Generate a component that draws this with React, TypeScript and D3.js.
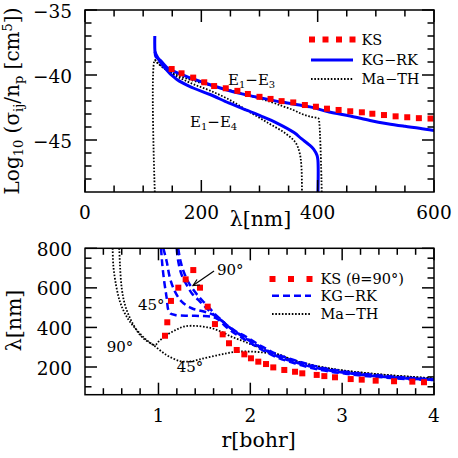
import * as d3 from 'd3';
import React from 'react';

// ---------- top panel : Log10(sigma_ij / n_p) against lambda ----------
const ksLambda = [149, 166, 186, 205, 222, 242, 262, 280, 300, 319, 338, 358, 378, 397, 416, 436, 456, 476, 494, 514, 534, 554, 574, 594];
const ksLog = [-39.54, -39.87, -40.2, -40.56, -40.85, -41.02, -41.22, -41.46, -41.68, -41.84, -42.01, -42.11, -42.31, -42.44, -42.59, -42.69, -42.79, -42.87, -42.98, -43.08, -43.18, -43.25, -43.32, -43.35];

const kgE13Lambda = [120, 120.3, 122, 130, 143, 160, 186, 215, 244, 270, 301, 340, 387, 420, 456, 490, 520, 550, 575, 600];
const kgE13Log = [-37.0, -38.2, -38.6, -38.9, -39.5, -39.85, -40.3, -40.75, -41.15, -41.45, -41.75, -42.1, -42.45, -42.85, -43.15, -43.5, -43.75, -43.95, -44.1, -44.28];

const kgE14Lambda = [120.3, 123, 135, 158, 186, 215, 247, 272, 301, 330, 360, 372, 385, 393, 399, 400.5, 400.5];
const kgE14Log = [-38.2, -38.5, -39.35, -40.35, -41.0, -41.5, -42.15, -42.6, -43.13, -43.7, -44.45, -44.9, -45.35, -45.7, -46.2, -46.6, -49.0];

const mtE13Lambda = [120, 120, 125, 146, 180, 215, 248, 284, 318, 340, 358, 373, 387, 401, 402, 407];
const mtE13Log = [-49.0, -38.85, -39.1, -39.75, -40.35, -40.8, -41.15, -41.6, -42.05, -42.4, -42.69, -43.0, -43.2, -43.33, -43.4, -49.0];

const mtE14Lambda = [120, 135, 160, 186, 215, 248, 282, 316, 345, 362, 369, 372, 373];
const mtE14Log = [-38.85, -39.45, -40.15, -40.7, -41.2, -41.9, -42.82, -43.72, -44.5, -45.2, -46.0, -47.0, -49.0];

const topXTicks = [0, 200, 400, 600];
const topYTicks = [-35, -40, -45];

// ---------- bottom panel : lambda against r ----------
const ksR = [1.071, 1.096, 1.136, 1.216, 1.296, 1.379, 1.452, 1.536, 1.615, 1.699, 1.768, 1.852, 1.935, 2.007, 2.087, 2.171, 2.25, 2.37, 2.487, 2.566, 2.723, 2.806, 2.922, 3.093, 3.213, 3.365, 3.565, 3.764, 3.891];
const ksLam = [358, 426, 534, 601, 643, 690, 601, 505, 417, 365, 320, 286, 264, 244, 227, 215, 198, 185, 176, 168, 160, 154, 148, 139, 136, 131, 128, 126, 123];

const kg1R = [1.028, 1.042, 1.063, 1.09, 1.107, 1.13, 1.18, 1.325, 1.471, 1.58, 1.65, 1.72, 1.8, 1.95, 2.13, 2.31, 2.49, 2.68, 2.86, 3.04, 3.22, 3.4, 3.6, 3.8, 4.0];
const kg1Lam = [800, 716, 631, 547, 488, 470, 463, 459, 458, 454, 440, 410, 380, 336, 286, 245, 218, 193, 177, 166, 156, 149, 142, 137, 134];
const kg2R = [1.053, 1.09, 1.126, 1.18, 1.253, 1.362, 1.471, 1.561, 1.63, 1.7, 1.78, 1.95, 2.13, 2.31, 2.49, 2.68, 2.86, 3.04, 3.22, 3.4, 3.6, 3.8, 4.0];
const kg2Lam = [800, 732, 648, 581, 530, 497, 483, 471, 455, 430, 398, 344, 293, 251, 224, 199, 182, 170, 160, 152, 145, 139, 136];
const kg3R = [1.198, 1.216, 1.253, 1.307, 1.362, 1.434, 1.507, 1.561, 1.62, 1.69, 1.77, 1.95, 2.13, 2.31, 2.49, 2.68, 2.86, 3.04, 3.22, 3.4, 3.6, 3.8, 4.0];
const kg3Lam = [800, 732, 665, 615, 573, 539, 505, 480, 458, 433, 400, 348, 297, 255, 228, 203, 185, 173, 163, 155, 147, 141, 137];
const kg4R = [1.215, 1.24, 1.28, 1.33, 1.38, 1.44, 1.5, 1.56, 1.62, 1.68, 1.75, 1.85, 1.95, 2.13, 2.31, 2.49, 2.68, 2.86, 3.04, 3.22, 3.4, 3.6, 3.8, 4.0];
const kg4Lam = [800, 735, 675, 625, 590, 555, 525, 495, 465, 440, 410, 378, 354, 303, 261, 233, 207, 189, 176, 166, 158, 150, 143, 138];

const mt90R = [0.501, 0.508, 0.538, 0.581, 0.654, 0.763, 0.872, 0.962, 1.0, 1.09, 1.2, 1.29, 1.43, 1.58, 1.69, 1.8, 1.9, 2.0, 2.1, 2.3, 2.5, 2.75, 3.0, 3.4, 3.76, 4.0];
const mt90Lam = [800, 715, 614, 530, 454, 387, 336, 311, 328, 362, 390, 406, 407, 396, 377, 352, 335, 316, 298, 264, 230, 202, 183, 163, 150, 142];
const mt45R = [0.573, 0.581, 0.6, 0.636, 0.709, 0.817, 0.944, 1.09, 1.234, 1.35, 1.45, 1.6, 1.74, 1.85, 2.0, 2.15, 2.3, 2.5, 2.75, 3.0, 3.4, 3.76, 4.0];
const mt45Lam = [800, 715, 598, 513, 429, 353, 311, 260, 230, 228, 239, 255, 269, 277, 278, 273, 264, 230, 202, 183, 163, 150, 142];

const botXTicks = [1, 2, 3, 4];
const botYTicks = [200, 400, 600, 800];

const FONT = '"DejaVu Serif", serif';
const BLUE = '#0000ff';
const RED = '#ff0000';

const xTop = d3.scaleLinear().domain([0, 600]).range([85, 434]);
const yTop = d3.scaleLinear().domain([-49, -35]).range([192, 10]);
const xBot = d3.scaleLinear().domain([0.2, 4]).range([85, 434]);
const yBot = d3.scaleLinear().domain([60, 800]).range([394.7, 248.3]);

const zip = (xs: number[], ys: number[]) => xs.map((x, i) => [x, ys[i]] as [number, number]);
const fmt = (v: number) => (v < 0 ? '\u2212' + Math.abs(v) : String(v));

function Frame({ x, y, xMajor, xMinor, yMajor, yMinor, xBase, ySide }: any) {
  const [x0, x1] = x.range();
  const [y1, y0] = y.range();
  const M = 12, m = 6.5;
  const t: any[] = [];
  xMajor.forEach((v: number, i: number) => {
    const X = x(v);
    t.push(<line key={'xa' + i} x1={X} x2={X} y1={y1} y2={y1 - M} />);
    t.push(<line key={'xb' + i} x1={X} x2={X} y1={y0} y2={y0 + M} />);
  });
  xMinor.forEach((v: number, i: number) => {
    const X = x(v);
    t.push(<line key={'xc' + i} x1={X} x2={X} y1={y1} y2={y1 - m} />);
    t.push(<line key={'xd' + i} x1={X} x2={X} y1={y0} y2={y0 + m} />);
  });
  yMajor.forEach((v: number, i: number) => {
    const Y = y(v);
    t.push(<line key={'ya' + i} x1={x0} x2={x0 + M} y1={Y} y2={Y} />);
    t.push(<line key={'yb' + i} x1={x1} x2={x1 - M} y1={Y} y2={Y} />);
  });
  yMinor.forEach((v: number, i: number) => {
    const Y = y(v);
    t.push(<line key={'yc' + i} x1={x0} x2={x0 + m} y1={Y} y2={Y} />);
    t.push(<line key={'yd' + i} x1={x1} x2={x1 - m} y1={Y} y2={Y} />);
  });
  return (
    <g>
      <g stroke="#000" strokeWidth={1.5}>
        {t}
        <rect x={x0} y={y0} width={x1 - x0} height={y1 - y0} fill="none" />
      </g>
      <g fontSize={18.5} fontFamily={FONT} fill="#000">
        {xMajor.map((v: number) => (
          <text key={'lx' + v} x={x(v)} y={xBase} textAnchor="middle">{fmt(v)}</text>
        ))}
        {yMajor.map((v: number) => (
          <text key={'ly' + v} x={ySide} y={y(v) + 7.5} textAnchor="end">{fmt(v)}</text>
        ))}
      </g>
    </g>
  );
}

export default function App() {
  const curve = d3.curveCatmullRom.alpha(0.5);
  const lt = d3.line<[number, number]>().x(d => xTop(d[0])).y(d => yTop(d[1])).curve(curve);
  const lb = d3.line<[number, number]>().x(d => xBot(d[0])).y(d => yBot(d[1])).curve(curve);
  const sq = 6;
  const dots = '1.6 1.7';

  return (
    <svg width={458} height={458} style={{ position: 'absolute', left: 0, top: 0, background: '#fff' }}>
      <defs>
        <clipPath id="clipTop"><rect x={85} y={10} width={349} height={182} /></clipPath>
        <clipPath id="clipBot"><rect x={85} y={248.3} width={349} height={146.4} /></clipPath>
      </defs>

      {/* top panel */}
      <g clipPath="url(#clipTop)" fill="none">
        <path d={lt(zip(mtE13Lambda, mtE13Log)) || ''} stroke="#000" strokeWidth={1.8} strokeDasharray={dots} />
        <path d={lt(zip(mtE14Lambda, mtE14Log)) || ''} stroke="#000" strokeWidth={1.8} strokeDasharray={dots} />
        <path d={lt(zip(kgE13Lambda, kgE13Log)) || ''} stroke={BLUE} strokeWidth={3} />
        <path d={lt(zip(kgE14Lambda, kgE14Log)) || ''} stroke={BLUE} strokeWidth={3} />
        {zip(ksLambda, ksLog).map((d, i) => (
          <rect key={i} x={xTop(d[0]) - sq / 2} y={yTop(d[1]) - sq / 2} width={sq} height={sq} fill={RED} />
        ))}
      </g>
      <Frame x={xTop} y={yTop} xMajor={topXTicks} xMinor={d3.range(50, 600, 50).filter(v => v % 200)}
        yMajor={topYTicks} yMinor={d3.range(-48, -35, 1).filter(v => v % 5)} xBase={218.5} ySide={72} />
      <g fontFamily={FONT} fontSize={15}>
        <text x={xTop(245.8)} y={yTop(-40.77)}>E<tspan dy={3} fontSize={10}>1</tspan><tspan dy={-3}>{'\u2212'}E</tspan><tspan dy={3} fontSize={10}>3</tspan></text>
        <text x={xTop(180.5)} y={yTop(-44.0)}>E<tspan dy={3} fontSize={10}>1</tspan><tspan dy={-3}>{'\u2212'}E</tspan><tspan dy={3} fontSize={10}>4</tspan></text>
      </g>
      {/* top legend */}
      <g fontFamily={FONT} fontSize={14.5}>
        {[312, 325.5, 339, 352.5].map(x => <rect key={x} x={x - sq / 2} y={39.5 - sq / 2} width={sq} height={sq} fill={RED} />)}
        <text x={361.5} y={44.5}>KS</text>
        <line x1={311} x2={353} y1={60} y2={60} stroke={BLUE} strokeWidth={3} />
        <text x={361.5} y={64.5}>KG{'\u2212'}RK</text>
        <line x1={311} x2={353} y1={79} y2={79} stroke="#000" strokeWidth={1.8} strokeDasharray={dots} />
        <text x={361.5} y={84}>Ma{'\u2212'}TH</text>
      </g>
      <text x={260.5} y={226} textAnchor="middle" fontFamily={FONT} fontSize={20.5}>{'\u03bb[nm]'}</text>
      <text transform="translate(18.5,101) rotate(-90)" textAnchor="middle" fontFamily={FONT} fontSize={20}>
        Log<tspan dy={4} fontSize={13}>10</tspan><tspan dy={-4}> ({'\u03c3'}</tspan><tspan dy={4} fontSize={13}>ij</tspan><tspan dy={-4}>/n</tspan><tspan dy={4} fontSize={13}>p</tspan><tspan dy={-4}> [cm</tspan><tspan dy={-7} fontSize={13}>5</tspan><tspan dy={7}>])</tspan>
      </text>

      {/* bottom panel */}
      <g clipPath="url(#clipBot)" fill="none">
        <path d={lb(zip(mt90R, mt90Lam)) || ''} stroke="#000" strokeWidth={1.8} strokeDasharray={dots} />
        <path d={lb(zip(mt45R, mt45Lam)) || ''} stroke="#000" strokeWidth={1.8} strokeDasharray={dots} />
        {[[kg1R, kg1Lam], [kg2R, kg2Lam], [kg3R, kg3Lam], [kg4R, kg4Lam]].map((s, i) => (
          <path key={i} d={lb(zip(s[0], s[1])) || ''} stroke={BLUE} strokeWidth={2.5} strokeDasharray="7 4" />
        ))}
        {zip(ksR, ksLam).map((d, i) => (
          <rect key={i} x={xBot(d[0]) - sq / 2} y={yBot(d[1]) - sq / 2} width={sq} height={sq} fill={RED} />
        ))}
      </g>
      <Frame x={xBot} y={yBot} xMajor={botXTicks} xMinor={d3.range(0.4, 4, 0.2).filter(v => Math.abs(v - Math.round(v)) > 0.01)}
        yMajor={botYTicks} yMinor={d3.range(100, 800, 50).filter(v => v % 200)} xBase={421.5} ySide={72} />
      <g fontFamily={FONT} fontSize={15}>
        <text x={xBot(0.777)} y={yBot(488)}>45°</text>
        <text x={xBot(0.436)} y={yBot(278)}>90°</text>
        <text x={xBot(1.198)} y={yBot(175)}>45°</text>
        <text x={xBot(1.637)} y={yBot(665)}>90°</text>
      </g>
      <g stroke="#000" strokeWidth={1.2} fill="none">
        <line x1={xBot(1.605)} y1={yBot(685)} x2={xBot(1.376)} y2={yBot(612)} />
        <path d={`M${xBot(1.376) + 7},${yBot(612) - 0.5} L${xBot(1.376)},${yBot(612)} L${xBot(1.376) + 4},${yBot(612) - 6}`} />
      </g>
      {/* bottom legend */}
      <g fontFamily={FONT} fontSize={14.5}>
        {[272.5, 291, 309.5].map(x => <rect key={x} x={x - sq / 2} y={279 - sq / 2} width={sq} height={sq} fill={RED} />)}
        <text x={320.5} y={284}>KS ({'\u03b8'}=90°)</text>
        <line x1={272} x2={311} y1={295.7} y2={295.7} stroke={BLUE} strokeWidth={2.5} strokeDasharray="7 4" />
        <text x={320.5} y={301}>KG{'\u2212'}RK</text>
        <line x1={272} x2={310} y1={314} y2={314} stroke="#000" strokeWidth={1.8} strokeDasharray={dots} />
        <text x={320.5} y={319}>Ma{'\u2212'}TH</text>
      </g>
      <text x={258.7} y={447} textAnchor="middle" fontFamily={FONT} fontSize={20.5}>r[bohr]</text>
      <text transform="translate(21,320.5) rotate(-90)" textAnchor="middle" fontFamily={FONT} fontSize={20.5}>{'\u03bb[nm]'}</text>
    </svg>
  );
}
